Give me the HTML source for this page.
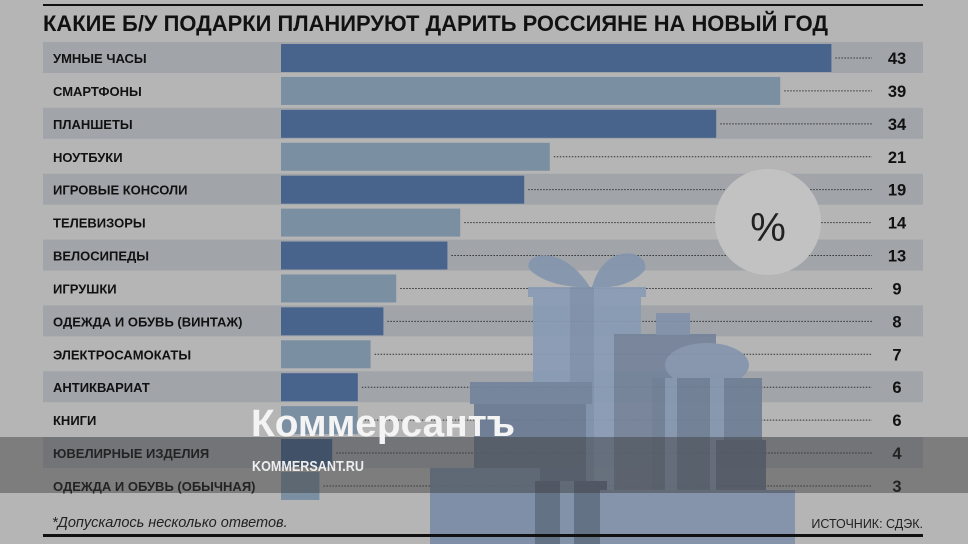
<!DOCTYPE html><html><head><meta charset="utf-8"><style>body{margin:0;background:#b5b5b5}svg{display:block}text{font-family:"Liberation Sans",sans-serif}</style></head><body>
<svg width="968" height="544" xmlns="http://www.w3.org/2000/svg">
<rect width="968" height="544" fill="#b5b5b5"/>
<rect x="43" y="4" width="880" height="2" fill="#111"/>
<text x="43" y="31" font-size="22.5" font-weight="bold" fill="#111" textLength="785" lengthAdjust="spacingAndGlyphs">КАКИЕ Б/У ПОДАРКИ ПЛАНИРУЮТ ДАРИТЬ РОССИЯНЕ НА НОВЫЙ ГОД</text>
<g id="rows"></g>
<circle cx="768" cy="222" r="53" fill="#c2c2c2"/>
<text x="768" y="241" font-size="40" text-anchor="middle" fill="#222">%</text>
<g opacity="0.92">
<path d="M590 287 C560 240 520 255 530 270 C545 285 575 288 590 287Z" fill="#8496ae"/>
<path d="M592 287 C605 240 650 250 645 270 C630 288 605 288 592 287Z" fill="#8496ae"/>
<rect x="528" y="287" width="118" height="10" fill="#8a9cb6"/>
<rect x="533" y="297" width="108" height="240" fill="#899bb5"/>
<rect x="570" y="287" width="24" height="250" fill="#7f91ab"/>
<rect x="614" y="334" width="102" height="200" fill="#74839a"/>
<rect x="656" y="313" width="34" height="22" fill="#8292aa"/>
<ellipse cx="707" cy="365" rx="42" ry="22" fill="#8595ad"/>
<rect x="652" y="378" width="110" height="165" fill="#6f7e95"/>
<rect x="665" y="378" width="12" height="165" fill="#8596ae"/>
<rect x="710" y="378" width="14" height="165" fill="#8596ae"/>
<rect x="470" y="382" width="122" height="22" fill="#73849c"/>
<rect x="474" y="404" width="112" height="140" fill="#6b7b93"/>
<rect x="430" y="468" width="110" height="76" fill="#7b8ca6"/>
<rect x="535" y="481" width="72" height="63" fill="#5e6d83"/>
<rect x="560" y="481" width="14" height="63" fill="#7e90a8"/>
<rect x="600" y="490" width="195" height="54" fill="#8192ab"/>
<rect x="716" y="440" width="50" height="50" fill="#6a788e"/>
</g>
<rect x="0" y="437" width="968" height="56" fill="#3a3a3a" opacity="0.45"/>
<text x="251" y="436" font-size="38" font-weight="bold" fill="#f4f4f4" textLength="264" lengthAdjust="spacingAndGlyphs">Коммерсантъ</text>
<text x="252" y="471" font-size="15" font-weight="bold" fill="#eee" textLength="112" lengthAdjust="spacingAndGlyphs">KOMMERSANT.RU</text>
<text x="52" y="527" font-size="14.5" font-style="italic" fill="#222">*Допускалось несколько ответов.</text>
<text x="923" y="528" font-size="12.5" text-anchor="end" fill="#222">ИСТОЧНИК: СДЭК.</text>
<rect x="43" y="534" width="880" height="3" fill="#111"/>
</svg>
<script>
const d=[["УМНЫЕ ЧАСЫ",43],["СМАРТФОНЫ",39],["ПЛАНШЕТЫ",34],["НОУТБУКИ",21],["ИГРОВЫЕ КОНСОЛИ",19],["ТЕЛЕВИЗОРЫ",14],["ВЕЛОСИПЕДЫ",13],["ИГРУШКИ",9],["ОДЕЖДА И ОБУВЬ (ВИНТАЖ)",8],["ЭЛЕКТРОСАМОКАТЫ",7],["АНТИКВАРИАТ",6],["КНИГИ",6],["ЮВЕЛИРНЫЕ ИЗДЕЛИЯ",4],["ОДЕЖДА И ОБУВЬ (ОБЫЧНАЯ)",3]];
let s="";d.forEach((r,i)=>{const c=58+32.92*i;
if(i%2==0)s+=`<rect x="43" y="${c-16}" width="880" height="31" fill="#a1a5aa"/>`;
const w=r[1]*12.8;
s+=`<line x1="${281+w+4}" y1="${c}" x2="872" y2="${c}" stroke="#333" stroke-width="1" stroke-dasharray="1.5,1.5"/>`;
s+=`<rect x="281" y="${c-14}" width="${w}" height="28" fill="${i%2==0?'#48648c':'#7b8fa3'}"/>`;
s+=`<text x="53" y="${c+5}" font-size="13" font-weight="bold" fill="#111">${r[0]}</text>`;
s+=`<text x="897" y="${c+6}" font-size="16.5" font-weight="bold" text-anchor="middle" fill="#111">${r[1]}</text>`;});
document.getElementById("rows").innerHTML=s;
</script>
</body></html>
